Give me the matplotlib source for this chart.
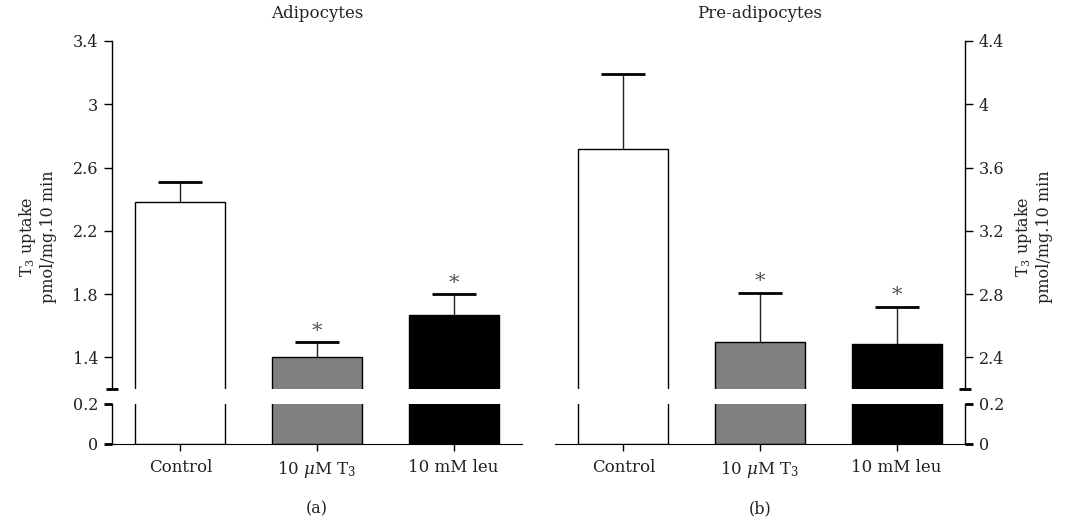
import numpy as np
import matplotlib
matplotlib.use('Agg')
import matplotlib.pyplot as plt

plt.rcParams['font.family'] = ['DejaVu Serif', 'Liberation Serif']
plt.rcParams['mathtext.fontset'] = 'dejavuserif'
plt.rcParams['font.size'] = 11

# data
groups = ['Control', '10 $\\mu$M T$_3$', '10 mM leu']
colors = ['white', '#808080', 'black']

adipo_mean = [2.38, 1.40, 1.667]
adipo_top = [2.51, 1.497, 1.80]
adipo_sig = [False, True, True]

pre_mean = [3.72, 2.50, 2.484]
pre_top = [4.19, 2.81, 2.72]
pre_sig = [False, True, True]

panels = [
    dict(title='Adipocytes', tag='(a)', mean=adipo_mean, top=adipo_top, sig=adipo_sig,
         upper=(1.2, 3.4), ticks=[1.4, 1.8, 2.2, 2.6, 3.0, 3.4],
         labels=['1.4', '1.8', '2.2', '2.6', '3', '3.4'], side='left',
         left=112, right=522),
    dict(title='Pre-adipocytes', tag='(b)', mean=pre_mean, top=pre_top, sig=pre_sig,
         upper=(2.2, 4.4), ticks=[2.4, 2.8, 3.2, 3.6, 4.0, 4.4],
         labels=['2.4', '2.8', '3.2', '3.6', '4', '4.4'], side='right',
         left=555, right=965),
]

W, H = 1067, 522
fig = plt.figure(figsize=(W / 100, H / 100), dpi=100)

y_top, y_break_hi, y_break_lo, y_bot = 41, 389, 404, 444
x = np.arange(len(groups))
fs = 11.5
txt_col = '#222222'

for p in panels:
    l = p['left'] / W
    w = (p['right'] - p['left']) / W
    ax_u = fig.add_axes([l, 1 - y_break_hi / H, w, (y_break_hi - y_top) / H])
    ax_l = fig.add_axes([l, 1 - y_bot / H, w, (y_bot - y_break_lo) / H])

    for ax in (ax_u, ax_l):
        ax.bar(x, p['mean'], width=0.66, color=colors, edgecolor='black', linewidth=1.0)
        ax.set_xlim(-0.5, 2.5)
        for s in ['top', 'left', 'right', 'bottom']:
            ax.spines[s].set_visible(False)
        ax.spines[p['side']].set_visible(True)
        ax.spines[p['side']].set_linewidth(1.0)
        ax.yaxis.set_ticks_position(p['side'])
        ax.tick_params(axis='y', direction='out', length=6, width=1.0,
                       labelsize=fs, labelcolor=txt_col, pad=4)
        ax.set_facecolor('none')

    ax_u.set_ylim(*p['upper'])
    ax_u.set_yticks(p['ticks'])
    ax_u.set_yticklabels(p['labels'])
    ax_u.set_yticks([p['upper'][0]], minor=True)
    ax_u.tick_params(axis='y', which='minor', direction='inout', length=8, width=2.0)
    ax_u.set_xticks([])

    ax_l.set_ylim(0, 0.2)
    ax_l.set_yticks([0, 0.2])
    ax_l.set_yticklabels(['0', '0.2'])
    ax_l.spines['bottom'].set_visible(True)
    ax_l.set_xticks(x)
    ax_l.set_xticklabels(groups, fontsize=12, color=txt_col)
    ax_l.tick_params(axis='x', direction='out', length=5, width=1.0, pad=6)
    ax_l.tick_params(axis='y', which='major', width=2.0)

    # upper error bars
    ax_u.vlines(x, p['mean'], p['top'], color='#222222', linewidth=1.0)
    ax_u.hlines(p['top'], x - 0.16, x + 0.16, color='black', linewidth=2.0)
    for xi, t, s in zip(x, p['top'], p['sig']):
        if s:
            ax_u.annotate('*', (xi, t), xytext=(0, 1), textcoords='offset points',
                          ha='center', va='bottom', fontsize=15, color='#555555')

    cx = (p['left'] + p['right']) / 2 / W
    fig.text(cx, 1 - 14 / H, p['title'], ha='center', va='center', fontsize=12, color=txt_col)
    fig.text(cx, 1 - 509 / H, p['tag'], ha='center', va='center', fontsize=fs, color=txt_col)

ylab = 'T$_3$ uptake\npmol/mg.10 min'
fig.text(37 / W, 1 - 237 / H, ylab, rotation=90, ha='center', va='center',
         fontsize=fs, linespacing=1.1, color=txt_col)
fig.text(1033 / W, 1 - 237 / H, ylab, rotation=90, ha='center', va='center',
         fontsize=fs, linespacing=1.1, color=txt_col)

fig.savefig('out.png', dpi=100)
